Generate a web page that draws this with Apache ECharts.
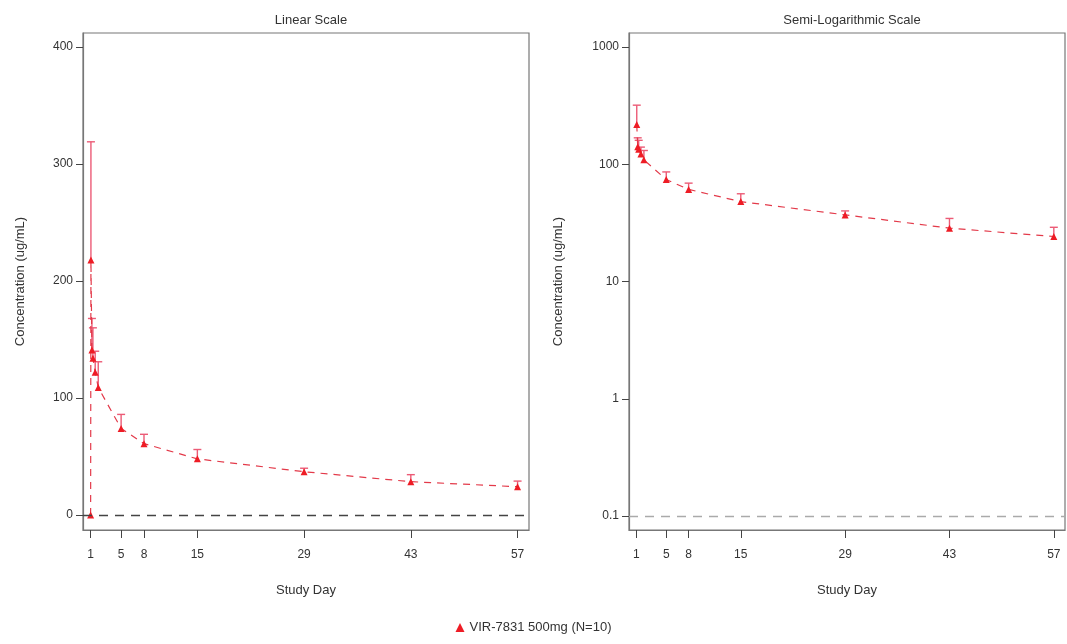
<!DOCTYPE html>
<html><head><meta charset="utf-8">
<script src="https://cdn.jsdelivr.net/npm/echarts@6/dist/echarts.min.js"></script>
<style>html,body{margin:0;padding:0;background:#fff}#c{width:1067px;height:644px}</style>
</head><body><div id="c"></div>
<script>
// ---- data ----
const studyDay = [1, 1.04, 1.17, 1.3, 1.6, 2, 5, 8, 15, 29, 43, 57];
const meanConc = [0, 218, 141, 134, 122, 109, 74, 61, 48, 37, 28.5, 24.2];
const upperSD  = [null, 319, 168, 160, 140, 131, 86, 69, 56, 40, 34.5, 29];
const xTicks = [1, 5, 8, 15, 29, 43, 57];
const linTicks = [0, 100, 200, 300, 400];
const logTicks = [0.1, 1, 10, 100, 1000];
const seriesName = 'VIR-7831 500mg (N=10)';
const panelTitles = ['Linear Scale', 'Semi-Logarithmic Scale'];
const yName = 'Concentration (ug/mL)';
const xName = 'Study Day';

// ---- styles ----
const FONT = "'Liberation Sans',Arial,sans-serif";
const RED = '#ee1c25';
const LINE_RED = '#e33a4a';
const BAR_RED = '#ec5b76';
const AXIS = '#777';

const linPts = studyDay.map((d, i) => [d, meanConc[i]]);
const logPts = studyDay.map((d, i) => [d, meanConc[i]]).filter(p => p[1] > 0);
const barPts = studyDay.map((d, i) => [d, meanConc[i], upperSD[i]]).filter(p => p[2] != null);

function errRender(params, api) {
  const x = api.value(0), m = api.value(1), u = api.value(2);
  const p1 = api.coord([x, m]);
  const p2 = api.coord([x, u]);
  const hw = 4;
  return {
    type: 'group',
    children: [
      {type: 'line', shape: {x1: p1[0], y1: p1[1], x2: p2[0], y2: p2[1]}, style: {stroke: BAR_RED, lineWidth: 1.4}},
      {type: 'line', shape: {x1: p2[0] - hw, y1: p2[1], x2: p2[0] + hw, y2: p2[1]}, style: {stroke: BAR_RED, lineWidth: 1.4}}
    ]
  };
}

function xAxis(gi) {
  return {
    gridIndex: gi, type: 'value', min: 0, max: 58.5,
    name: xName, nameLocation: 'middle', nameGap: 54,
    nameTextStyle: {fontFamily: FONT, fontSize: 13, color: '#333'},
    axisLine: {show: true, onZero: false, lineStyle: {color: AXIS, width: 1.2}},
    axisTick: {show: true, length: 8, customValues: xTicks, lineStyle: {color: '#444'}},
    axisLabel: {customValues: xTicks, fontFamily: FONT, fontSize: 12, color: '#333', margin: 19},
    splitLine: {show: false}
  };
}

const option = {
  animation: false,
  backgroundColor: '#fff',
  title: [
    {text: panelTitles[0], left: 306, top: 9, textAlign: 'center',
     textStyle: {fontFamily: FONT, fontSize: 13, fontWeight: 'normal', color: '#333'}},
    {text: panelTitles[1], left: 847, top: 9, textAlign: 'center',
     textStyle: {fontFamily: FONT, fontSize: 13, fontWeight: 'normal', color: '#333'}}
  ],
  legend: {
    data: [{name: seriesName, icon: 'triangle'}],
    bottom: 5, left: 'center', itemWidth: 9, itemHeight: 9,
    textStyle: {fontFamily: FONT, fontSize: 13, color: '#333'}
  },
  grid: [
    {left: 83, top: 33, width: 446, height: 497, show: true, borderColor: AXIS, borderWidth: 1.2, backgroundColor: '#fff'},
    {left: 629, top: 33, width: 436, height: 497, show: true, borderColor: AXIS, borderWidth: 1.2, backgroundColor: '#fff'}
  ],
  xAxis: [xAxis(0), xAxis(1)],
  yAxis: [
    {gridIndex: 0, type: 'value', min: -12.8, max: 412,
     name: yName, nameLocation: 'middle', nameGap: 56,
     nameTextStyle: {fontFamily: FONT, fontSize: 13, color: '#333'},
     axisLine: {show: true, onZero: false, lineStyle: {color: AXIS, width: 1.2}},
     axisTick: {show: true, length: 7, customValues: linTicks, lineStyle: {color: '#444'}},
     axisLabel: {customValues: linTicks, fontFamily: FONT, fontSize: 12, color: '#333', margin: 10},
     splitLine: {show: false}},
    {gridIndex: 1, type: 'log', logBase: 10, min: 0.076, max: 1316,
     name: yName, nameLocation: 'middle', nameGap: 64,
     nameTextStyle: {fontFamily: FONT, fontSize: 13, color: '#333'},
     axisLine: {show: true, onZero: false, lineStyle: {color: AXIS, width: 1.2}},
     axisTick: {show: true, length: 7, customValues: logTicks, lineStyle: {color: '#444'}},
     axisLabel: {customValues: logTicks, fontFamily: FONT, fontSize: 12, color: '#333', margin: 10,
                 formatter: v => String(+Number(v).toPrecision(6))},
     splitLine: {show: false}}
  ],
  series: [
    {name: seriesName, type: 'line', xAxisIndex: 0, yAxisIndex: 0, data: linPts,
     symbol: 'triangle', symbolSize: 7, itemStyle: {color: RED},
     lineStyle: {color: LINE_RED, width: 1.2, type: [7, 6]}, z: 3,
     markLine: {silent: true, symbol: 'none', label: {show: false},
       lineStyle: {color: '#444', type: [9, 7], width: 1.3}, data: [{yAxis: 0}]}},
    {name: seriesName, type: 'custom', xAxisIndex: 0, yAxisIndex: 0, data: barPts,
     renderItem: errRender, encode: {x: 0, y: [1, 2]}, z: 2},
    {name: seriesName, type: 'line', xAxisIndex: 1, yAxisIndex: 1, data: logPts,
     symbol: 'triangle', symbolSize: 7, itemStyle: {color: RED},
     lineStyle: {color: LINE_RED, width: 1.2, type: [7, 6]}, z: 3,
     markLine: {silent: true, symbol: 'none', label: {show: false},
       lineStyle: {color: '#aaa', type: [9, 7], width: 1.3}, data: [{yAxis: 0.1}]}},
    {name: seriesName, type: 'custom', xAxisIndex: 1, yAxisIndex: 1, data: barPts,
     renderItem: errRender, encode: {x: 0, y: [1, 2]}, z: 2}
  ]
};
const chart = echarts.init(document.getElementById('c'), null, {renderer: 'canvas'});
chart.setOption(option);
</script></body></html>
